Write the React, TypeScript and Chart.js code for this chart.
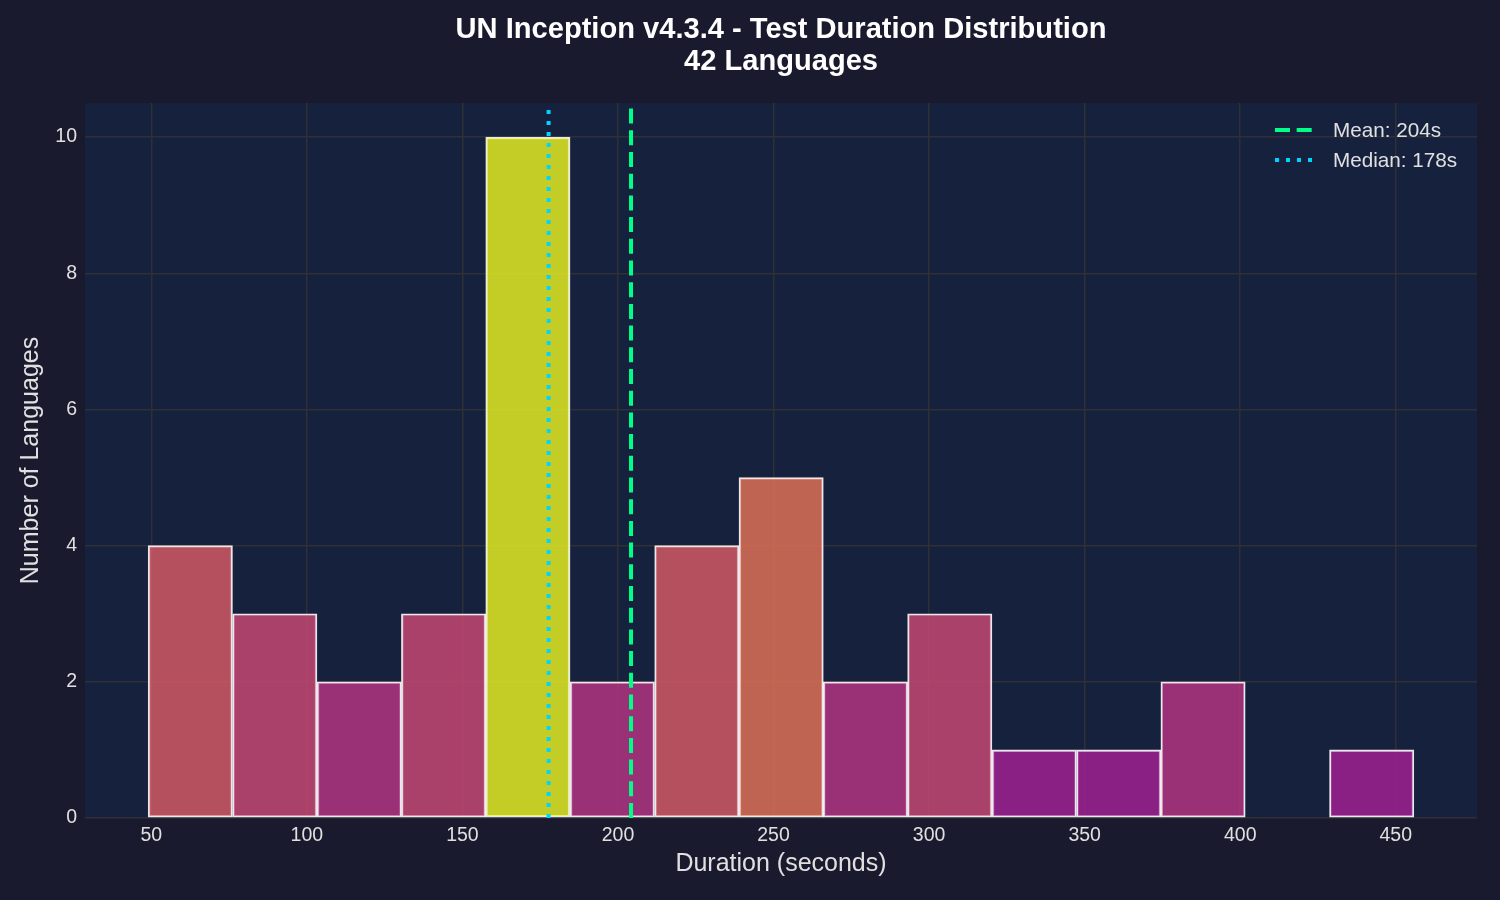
import React, { useEffect, useRef } from "react";
import { Chart, registerables } from "chart.js";

Chart.register(...registerables);

// histogram bins (seconds)
const BIN_EDGES = [49.0, 76.1, 103.3, 130.4, 157.5, 184.6, 211.8, 238.9, 266.0, 293.1, 320.2, 347.4, 374.5, 401.6, 428.7, 455.8];
const COUNTS = [4, 3, 2, 3, 10, 2, 4, 5, 2, 3, 1, 1, 2, 0, 1];
const X_TICKS = [50, 100, 150, 200, 250, 300, 350, 400, 450];
const Y_TICKS = [0, 2, 4, 6, 8, 10];
const MEAN = 204.2;
const MEDIAN = 177.7;
const TITLE_LINES = ["UN Inception v4.3.4 - Test Duration Distribution", "42 Languages"];

const FIG_BG = "#1a1a2e";
const AX_BG = "#16213e";
const GRID = "#2f2f36";
const TEXT = "#e0e0e0";
const FONT = "'Liberation Sans', Arial, sans-serif";

const PLASMA = ["#0d0887", "#41049d", "#6a00a8", "#8f0da4", "#b12a90", "#cc4778", "#e16462", "#f2844b", "#fca636", "#fcce25", "#f0f921"];

function hexRgb(h: string): number[] {
  return [1, 3, 5].map((i) => parseInt(h.slice(i, i + 2), 16));
}

function plasma(t: number, alpha: number): string {
  const p = Math.max(0, Math.min(1, t)) * 10;
  const i = Math.min(9, Math.floor(p));
  const f = p - i;
  const a = hexRgb(PLASMA[i]);
  const b = hexRgb(PLASMA[i + 1]);
  const c = a.map((v, k) => Math.round(v + (b[k] - v) * f));
  return `rgba(${c[0]},${c[1]},${c[2]},${alpha})`;
}

const maxCount = Math.max(...COUNTS);

const axesBg = {
  id: "axesBg",
  beforeDraw(chart: Chart) {
    const { ctx, chartArea: a } = chart;
    ctx.save();
    ctx.fillStyle = AX_BG;
    ctx.fillRect(a.left, a.top, a.right - a.left, a.bottom - a.top);
    ctx.restore();
  },
};

// matplotlib-style legend in the upper right of the plot area
const cornerLegend = {
  id: "cornerLegend",
  afterDatasetsDraw(chart: Chart) {
    const { ctx, chartArea: a } = chart;
    const x0 = a.right - 202;
    let row = 0;
    ctx.save();
    chart.data.datasets.forEach((ds: any) => {
      if (ds.type !== "line") return;
      const y = a.top + 27 + row * 30;
      ctx.beginPath();
      ctx.strokeStyle = ds.borderColor;
      ctx.lineWidth = ds.borderWidth;
      ctx.lineCap = "butt";
      ctx.setLineDash(ds.borderDash || []);
      ctx.moveTo(x0, y);
      ctx.lineTo(x0 + 38, y);
      ctx.stroke();
      ctx.setLineDash([]);
      ctx.fillStyle = TEXT;
      ctx.font = `20.7px ${FONT}`;
      ctx.textBaseline = "middle";
      ctx.textAlign = "left";
      ctx.fillText(ds.label, x0 + 58, y + 1);
      row++;
    });
    ctx.restore();
  },
};

const App: React.FC = () => {
  const canvasRef = useRef<HTMLCanvasElement>(null);
  const chartRef = useRef<Chart | null>(null);

  useEffect(() => {
    if (!canvasRef.current) return;
    if (chartRef.current) chartRef.current.destroy();

    const bars = COUNTS.map((c, i) => ({ x: (BIN_EDGES[i] + BIN_EDGES[i + 1]) / 2, y: c }));

    chartRef.current = new Chart(canvasRef.current, {
      type: "bar",
      data: {
        datasets: [
          {
            type: "bar",
            label: "Languages",
            data: bars,
            backgroundColor: COUNTS.map((c) => plasma(0.3 + (0.7 * c) / maxCount, 0.8)),
            borderColor: "rgba(255,255,255,0.9)",
            borderWidth: 1.8,
            borderSkipped: false,
            barPercentage: 1,
            categoryPercentage: 1,
            grouped: false,
            order: 2,
          },
          {
            type: "line",
            label: `Mean: ${Math.round(MEAN)}s`,
            data: [{ x: MEAN, y: 0 }, { x: MEAN, y: 10.5 }],
            borderColor: "#00ff88",
            borderWidth: 4,
            borderDash: [15, 6.7],
            pointRadius: 0,
            fill: false,
            order: 1,
          },
          {
            type: "line",
            label: `Median: ${Math.round(MEDIAN)}s`,
            data: [{ x: MEDIAN, y: 0 }, { x: MEDIAN, y: 10.5 }],
            borderColor: "#00d4ff",
            borderWidth: 4,
            borderDash: [4, 7],
            pointRadius: 0,
            fill: false,
            order: 0,
          },
        ] as any,
      },
      options: {
        responsive: true,
        maintainAspectRatio: false,
        animation: false,
        layout: { padding: { left: 0, right: 23, top: 0, bottom: 0 } },
        plugins: {
          legend: { display: false },
          tooltip: { enabled: false },
          title: {
            display: true,
            text: TITLE_LINES,
            fullSize: false,
            color: "#ffffff",
            font: { family: FONT, size: 29.1, weight: "bold", lineHeight: 1.1 },
            padding: { top: 14, bottom: 25 },
          },
        },
        scales: {
          x: {
            type: "linear",
            offset: false,
            min: 28.7,
            max: 476.1,
            afterBuildTicks: (axis: any) => {
              axis.ticks = X_TICKS.map((v) => ({ value: v }));
            },
            afterFit: (axis: any) => {
              axis.height = 82;
            },
            grid: { color: GRID, lineWidth: 1.5, drawTicks: false, offset: false },
            border: { display: false },
            ticks: { color: TEXT, padding: 6, font: { family: FONT, size: 19.5 }, maxRotation: 0 },
            title: {
              display: true,
              text: "Duration (seconds)",
              color: TEXT,
              font: { family: FONT, size: 25, lineHeight: 1.2 },
              padding: { top: 0, bottom: 21 },
            },
          },
          y: {
            type: "linear",
            min: 0,
            max: 10.5,
            afterBuildTicks: (axis: any) => {
              axis.ticks = Y_TICKS.map((v) => ({ value: v }));
            },
            afterFit: (axis: any) => {
              axis.width = 85;
            },
            grid: { color: GRID, lineWidth: 1.5, drawTicks: false },
            border: { display: false },
            ticks: { color: TEXT, padding: 8, font: { family: FONT, size: 19.5 } },
            title: {
              display: true,
              text: "Number of Languages",
              color: TEXT,
              font: { family: FONT, size: 25, lineHeight: 1.2 },
              padding: { top: 16, bottom: 0 },
            },
          },
        },
      } as any,
      plugins: [axesBg, cornerLegend],
    });

    return () => chartRef.current?.destroy();
  }, []);

  return (
    <div style={{ position: "fixed", left: 0, top: 0, width: 1500, height: 900, background: FIG_BG }}>
      <canvas ref={canvasRef} />
    </div>
  );
};

export default App;
